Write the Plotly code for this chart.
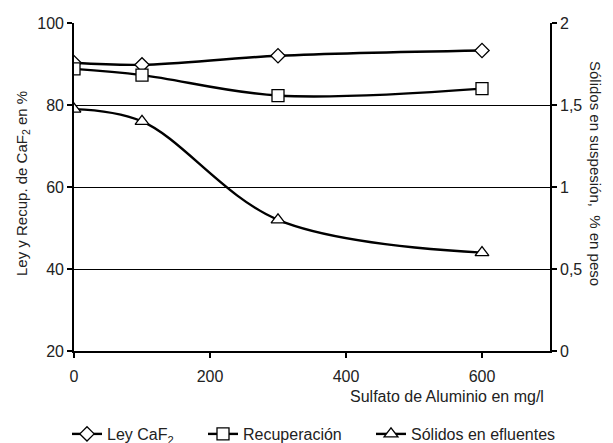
import plotly.graph_objects as go

x_vals = [0, 100, 300, 600]
ley_caf2 = [90.3, 89.8, 92.0, 93.3]
recuperacion = [88.8, 87.3, 82.3, 84.0]
solidos = [1.475, 1.40, 0.80, 0.60]

FONT = "Liberation Sans, Arial, sans-serif"
line = dict(color="black", width=2.4, shape="spline", smoothing=1.0)

L, R, T, B = 74, 63, 23, 92
W, H = 613, 443
PW, PH = W - L - R, H - T - B

def px(xp):
    return (xp - L) / PW

def py(yp):
    return (H - B - yp) / PH

fig = go.Figure()
fig.add_trace(go.Scatter(x=x_vals, y=ley_caf2, mode="lines+markers", name="Ley CaF<sub>2</sub>",
                         line=line, legend="legend",
                         marker=dict(symbol="diamond", size=11, color="white", line=dict(width=1.3, color="black"))))
fig.add_trace(go.Scatter(x=x_vals, y=recuperacion, mode="lines+markers", name="Recuperación",
                         line=line, legend="legend2",
                         marker=dict(symbol="square", size=12, color="white", line=dict(width=1.3, color="black"))))
fig.add_trace(go.Scatter(x=x_vals, y=solidos, mode="lines+markers", name="Sólidos en efluentes", yaxis="y2",
                         line=line, legend="legend3",
                         marker=dict(symbol="triangle-up", size=12, color="white", line=dict(width=1.3, color="black"))))

leg_common = dict(orientation="h", xanchor="left", yanchor="middle", xref="container", yref="container",
                  y=1 - 434 / H, font=dict(size=16, color="#222"), bgcolor="rgba(0,0,0,0)")

fig.update_layout(
    width=W, height=H,
    margin=dict(l=L, r=R, t=T, b=B, autoexpand=False),
    paper_bgcolor="white", plot_bgcolor="white",
    font=dict(family=FONT, size=16, color="#222"),
    showlegend=True,
    legend=dict(x=67 / W, **leg_common),
    legend2=dict(x=203 / W, **leg_common),
    legend3=dict(x=371 / W, **leg_common),
    xaxis=dict(range=[0, 700], tickvals=[0, 200, 400, 600], showgrid=False, zeroline=False,
               showline=True, linecolor="black", linewidth=1.6, ticks="outside", ticklen=5,
               tickcolor="black", tickwidth=1.5, ticklabelstandoff=5),
    yaxis=dict(range=[20, 100], tickvals=[20, 40, 60, 80, 100], showgrid=True, gridcolor="black",
               gridwidth=1.3, zeroline=False, showline=True, linecolor="black", linewidth=1.6,
               ticks="outside", ticklen=5, tickcolor="black", tickwidth=1.5),
    yaxis2=dict(range=[0, 2], tickvals=[0, 0.5, 1, 1.5, 2], ticktext=["0", "0,5", "1", "1,5", "2"],
                overlaying="y", side="right", showgrid=False, zeroline=False, showline=True,
                linecolor="black", linewidth=1.6, ticks="outside", ticklen=5, tickcolor="black", tickwidth=1.5),
    annotations=[
        dict(text="Ley y Recup. de CaF<sub>2</sub> en %", xref="paper", yref="paper", x=px(22), y=py(184),
             textangle=-90, showarrow=False, xanchor="center", yanchor="middle", font=dict(size=15)),
        dict(text="Sólidos en suspesión,  % en peso", xref="paper", yref="paper", x=px(596), y=py(173),
             textangle=90, showarrow=False, xanchor="center", yanchor="middle", font=dict(size=15)),
        dict(text="Sulfato de Aluminio en mg/l", xref="paper", yref="paper", x=px(447), y=py(397),
             showarrow=False, xanchor="center", yanchor="middle", font=dict(size=16)),
    ],
)

fig.write_html("out.html")
